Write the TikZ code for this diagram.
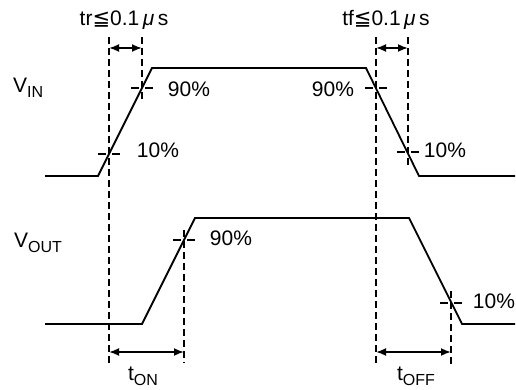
\documentclass[tikz,border=0pt]{standalone}
\usepackage{fontspec}
\setmainfont{Liberation Sans}
\newfontfamily\symfont{DejaVu Sans}
\usetikzlibrary{arrows.meta,positioning}
\tikzset{wvln/.style={line width=1.8pt, line join=miter},
    vdsh/.style={line width=1.6pt, dash pattern=on 7pt off 4pt},
    hdsh/.style={line width=1.6pt, dash pattern=on 8pt off 6pt},
    tmar/.style={line width=1.8pt, {Latex[length=10pt,width=8pt]}-{Latex[length=10pt,width=8pt]}},
    lbl/.style={inner sep=0pt, anchor=base, font=\fontsize{21}{25}\selectfont}}
\newcommand{\lowsub}[1]{\raisebox{-5pt}{\fontsize{16}{19}\selectfont #1}}

\begin{document}
\begin{tikzpicture}[x=1pt,y=-1pt]
                                \useasboundingbox (0,0) rectangle (516,390);
                                \coordinate (a0) at (45,176);
                                \coordinate (a1) at (98,176);
                                \coordinate (a2) at (152,68);
                                \coordinate (a3) at (366,68);
                                \coordinate (a4) at (419,176);
                                \coordinate (a5) at (515,176);
                                \coordinate (b0) at (45,324);
                                \coordinate (b1) at (142,324);
                                \coordinate (b2) at (195,218);
                                \coordinate (b3) at (409,218);
                                \coordinate (b4) at (462,324);
                                \coordinate (b5) at (515,324);
                                \draw[wvln] (a0) -- (a1) -- (a2) -- (a3) -- (a4) -- (a5);
                                \draw[wvln] (b0) -- (b1) -- (b2) -- (b3) -- (b4) -- (b5);
                                \coordinate (inlo) at (109,154);
                                \coordinate (inhi) at (142,88);
                                \coordinate (fhi) at (376,88);
                                \coordinate (flo) at (408,152);
                                \coordinate (outhi) at (184,240);
                                \coordinate (outlo) at (451,303);
                                \draw[vdsh] (109,37) -- (109,366);
                                \draw[vdsh] (142,37) -- (inhi) -- (142,100);
                                \draw[vdsh] (376,37) -- (376,366);
                                \draw[vdsh] (408,37) -- (flo) -- (408,166);
                                \draw[vdsh] (184,230) -- (outhi) -- (184,363);
                                \draw[vdsh] (451,291) -- (outlo) -- (451,367);
                                \foreach \c in {inlo,inhi,fhi,flo,outhi,outlo}
                                    \draw[hdsh] ([xshift=-11pt]\c) -- ([xshift=11pt]\c);
                                \coordinate (trl) at (109,48);
                                \coordinate (trr) at (142,48);
                                \coordinate (tfl) at (376,48);
                                \coordinate (tfr) at (408,48);
                                \coordinate (tonl) at (109,352);
                                \coordinate (tonr) at (184,352);
                                \coordinate (toffl) at (376,352);
                                \coordinate (toffr) at (451,352);
                                \draw[tmar] (trl) -- (trr);
                                \draw[tmar] (tfl) -- (tfr);
                                \draw[tmar] (tonl) -- (tonr);
                                \draw[tmar] (toffl) -- (toffr);
                                \node[lbl] (tr) at (124,26) {tr{\symfont ≦}0.1\,{\itshape μ}\,s};
                                \node[lbl] (tf) at (386,26) {tf{\symfont ≦}0.1\,{\itshape μ}\,s};
                                \node[lbl, anchor=base west] (vin) at (13,93) {V\lowsub{IN}};
                                \node[lbl, anchor=base west] (vout) at (14,247) {V\lowsub{OUT}};
                                \node[lbl] (p90a) at (189,97) {90\%};
                                \node[lbl] (p90b) at (333,97) {90\%};
                                \node[lbl] (p10a) at (158,158) {10\%};
                                \node[lbl] (p10b) at (445,158) {10\%};
                                \node[lbl] (p90c) at (231,245) {90\%};
                                \node[lbl] (p10c) at (494,308) {10\%};
                                \node[lbl] (ton) at (143,380) {t\lowsub{ON}};
                                \node[lbl] (toff) at (416,380) {t\lowsub{OFF}};
                            \end{tikzpicture}
\end{document}
